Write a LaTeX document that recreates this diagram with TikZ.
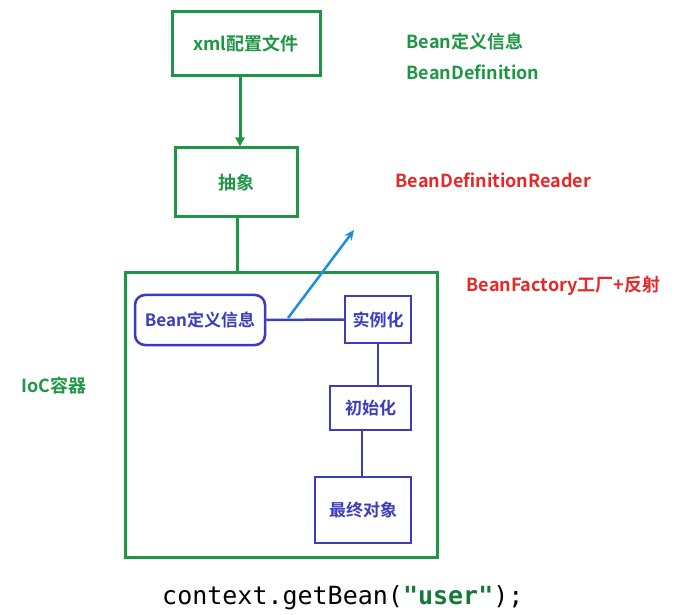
\documentclass[tikz,border=0pt]{standalone}
\usepackage{fontspec}
\setmainfont{Noto Sans CJK SC}[BoldFont={Noto Sans CJK SC Bold}]
\newfontfamily\cjkb{Noto Sans CJK SC Bold}
\newfontfamily\monof{DejaVu Sans Mono}
\usetikzlibrary{arrows.meta}
\definecolor{gr}{RGB}{30,150,70}
\definecolor{bl}{RGB}{60,60,190}
\definecolor{rd}{RGB}{230,40,40}
\definecolor{lb}{RGB}{30,140,220}
\begin{document}
\begin{tikzpicture}[x=1pt,y=-1pt,
 gbox/.style={draw=gr,line width=3pt,inner sep=0pt},
 bbox/.style={draw=bl,line width=2.5pt,inner sep=0pt},
 gl/.style={draw=gr,line width=3pt},
 bline/.style={draw=bl,line width=2.5pt},
 lab/.style={font=\cjkb\fontsize{18}{21}\selectfont},
 blab/.style={font=\cjkb\fontsize{17}{20}\selectfont,text=bl}]
\useasboundingbox (0,0) rectangle (681,615);
\node[gbox,minimum width=148pt,minimum height=64pt,lab,text=gr] (xml) at (246,44) {xml配置文件};
\node[gbox,minimum width=122pt,minimum height=69pt,lab,text=gr] (abs) at (236,182.5) {抽象};
\node[gbox,minimum width=312pt,minimum height=284pt] (ioc) at (281,415) {};
\node[bbox,rounded corners=10pt,minimum width=130pt,minimum height=50pt,blab] (def) at (200,320) {Bean定义信息};
\node[bbox,minimum width=66pt,minimum height=47pt,blab] (inst) at (378,319.5) {实例化};
\node[bbox,minimum width=81pt,minimum height=44pt,blab] (init) at (370.5,408) {初始化};
\node[bbox,minimum width=96pt,minimum height=66pt,blab] (fin) at (363,510) {最终对象};
\draw[gl,-{Triangle[length=9pt,width=9pt]}] (xml.south -| 240,0) -- (abs.north -| 240,0);
\draw[gl] (abs.south -| 237,0) -- (ioc.north -| 237,0);
\draw[bline] (def.east) -- (inst.west);
\draw[bline] (inst.south) -- (init.north -| inst.south);
\draw[bline] (init.south -| 362,0) -- (fin.north -| 362,0);
\coordinate (tip) at (354,230);
\coordinate (st) at (288,318);
\draw[draw=lb,line width=2.5pt,-{Stealth[length=10pt,width=9pt]}] (st) -- (tip);
\node[lab,text=gr,anchor=west] (t1) at (403,42) {Bean定义信息};
\node[lab,text=gr,anchor=west] (t2) at (403,72) {BeanDefinition};
\node[lab,text=rd,anchor=west] (t3) at (392,180) {BeanDefinitionReader};
\node[lab,text=rd,anchor=west] (t4) at (463,286) {BeanFactory工厂+反射};
\node[lab,text=gr,anchor=west] (t5) at (18,386) {IoC容器};
\node[font=\monof\fontsize{25}{29}\selectfont,anchor=west,inner sep=0pt] (code) at (162,598) {context.getBean(\textcolor{gr!80!black}{\bfseries"user"});};
\end{tikzpicture}
\end{document}
